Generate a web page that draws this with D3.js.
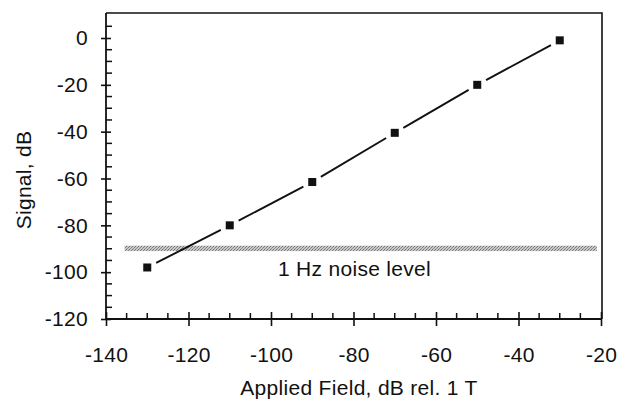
<!DOCTYPE html>
<html>
<head>
<meta charset="utf-8">
<script src="https://cdn.jsdelivr.net/npm/d3@7"></script>
<style>
  html, body { margin: 0; padding: 0; background: #fff; }
  svg { display: block; }
  text { font-family: "Liberation Sans", Arial, Helvetica, sans-serif; fill: #111; letter-spacing: 0.3px; }
</style>
</head>
<body>
<script>
// ---- data ----
const fieldDB  = [-130, -110, -90, -70, -50, -30];
const signalDB = [-98, -80, -61.5, -40.5, -20, -1];
const xTicks = [-140, -120, -100, -80, -60, -40, -20];
const yTicks = [0, -20, -40, -60, -80, -100, -120];
const noiseBand = { x0: -135.5, x1: -21, y0: -88.7, y1: -91.0 };
const noiseLabel = "1 Hz noise level";
const xTitle = "Applied Field, dB rel. 1 T";
const yTitle = "Signal, dB";

const W = 617, H = 401;
const svg = d3.select("body").append("svg").attr("width", W).attr("height", H);

const x = d3.scaleLinear().domain([-140, -20]).range([106, 601]);
const y = d3.scaleLinear().domain([-120, 0]).range([319, 38]);
const yTopVal = 10.7;

const fs = 21;
const ink = "#111";

// halftone-like pattern for the noise band
const defs = svg.append("defs");
const pat = defs.append("pattern").attr("id", "dither")
  .attr("width", 3).attr("height", 3).attr("patternUnits", "userSpaceOnUse");
pat.append("rect").attr("width", 3).attr("height", 3).attr("fill", "#c8c8c8");
pat.append("rect").attr("x", 0).attr("y", 0).attr("width", 1).attr("height", 1).attr("fill", "#707070");
pat.append("rect").attr("x", 2).attr("y", 1).attr("width", 1).attr("height", 1).attr("fill", "#808080");
pat.append("rect").attr("x", 1).attr("y", 2).attr("width", 1).attr("height", 1).attr("fill", "#909090");

// frame (top and right)
svg.append("path")
  .attr("d", `M${x(-140)},${y(yTopVal)} H${x(-20)+1} V${y(-120)}`)
  .attr("fill", "none").attr("stroke", ink).attr("stroke-width", 1.6);

// noise band
svg.append("rect")
  .attr("x", x(noiseBand.x0)).attr("width", x(noiseBand.x1) - x(noiseBand.x0))
  .attr("y", y(noiseBand.y0)).attr("height", y(noiseBand.y1) - y(noiseBand.y0))
  .attr("fill", "url(#dither)");

svg.append("text")
  .attr("x", x(-98.3)).attr("y", y(-101.6))
  .attr("font-size", fs).text(noiseLabel);

// x axis
const xAxis = d3.axisBottom(x).tickValues(xTicks).tickSize(7).tickPadding(21)
  .tickFormat(d3.format("d"));
const gx = svg.append("g").attr("transform", `translate(0,${y(-120)})`).call(xAxis);
gx.select(".domain").attr("d", `M${x(-140)},0H${x(-20)}`).attr("stroke", ink).attr("stroke-width", 1.8);
gx.selectAll(".tick line").attr("y1", -7).attr("stroke", ink).attr("stroke-width", 1.6);
gx.selectAll(".tick text").attr("font-size", fs).attr("fill", ink).attr("font-family", "Liberation Sans, Arial, sans-serif")
  .text(d => String(d));
const xMinor = d3.range(-135, -20, 5).filter(v => v % 20 !== 0);
gx.selectAll(".minor").data(xMinor).enter().append("line")
  .attr("x1", d => x(d)).attr("x2", d => x(d)).attr("y1", 0).attr("y2", -6)
  .attr("stroke", ink).attr("stroke-width", 1.5);

// y axis
const yAxis = d3.axisLeft(y).tickValues(yTicks).tickSize(5).tickPadding(13)
  .tickFormat(d3.format("d"));
const gy = svg.append("g").attr("transform", `translate(${x(-140)},0)`).call(yAxis);
gy.select(".domain").attr("d", `M0,${y(-120)}V${y(yTopVal)}`).attr("stroke", ink).attr("stroke-width", 1.8);
gy.selectAll(".tick line").attr("x1", 5).attr("stroke", ink).attr("stroke-width", 1.6);
gy.selectAll(".tick text").attr("font-size", fs).attr("fill", ink).attr("font-family", "Liberation Sans, Arial, sans-serif")
  .text(d => String(d));
const yMinor = d3.range(-115, 10, 5).filter(v => v % 20 !== 0);
gy.selectAll(".minor").data(yMinor).enter().append("line")
  .attr("x1", 0).attr("x2", 6).attr("y1", d => y(d)).attr("y2", d => y(d))
  .attr("stroke", ink).attr("stroke-width", 1.5);

// axis titles
svg.append("text").attr("x", 359).attr("y", 395)
  .attr("text-anchor", "middle").attr("font-size", fs).text(xTitle);
svg.append("text").attr("transform", `translate(31,180) rotate(-90)`)
  .attr("text-anchor", "middle").attr("font-size", fs).text(yTitle);

// data line segments with gaps around markers
const pts = fieldDB.map((f, i) => [x(f), y(signalDB[i])]);
const gap = 10;
const segs = d3.pairs(pts).map(([a, b]) => {
  const dx = b[0] - a[0], dy = b[1] - a[1], L = Math.hypot(dx, dy);
  const ux = dx / L, uy = dy / L;
  return [[a[0] + ux * gap, a[1] + uy * gap], [b[0] - ux * gap, b[1] - uy * gap]];
});
svg.selectAll(".seg").data(segs).enter().append("line")
  .attr("x1", d => d[0][0]).attr("y1", d => d[0][1])
  .attr("x2", d => d[1][0]).attr("y2", d => d[1][1])
  .attr("stroke", ink).attr("stroke-width", 1.9);

// markers
const ms = 8;
svg.selectAll(".pt").data(fieldDB).enter().append("rect")
  .attr("x", (d) => x(d) - ms / 2)
  .attr("y", (d, i) => y(signalDB[i]) - ms / 2)
  .attr("width", ms).attr("height", ms).attr("fill", ink);
</script>
</body>
</html>
